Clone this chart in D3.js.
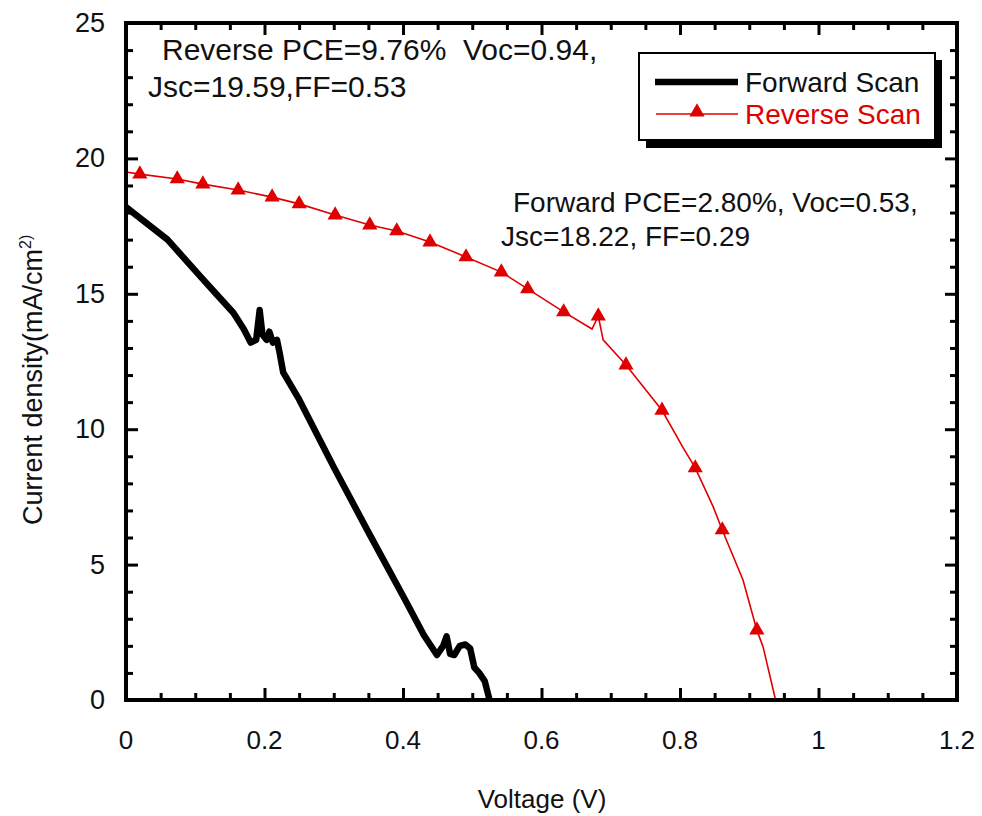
<!DOCTYPE html>
<html>
<head>
<meta charset="utf-8">
<script src="https://cdn.jsdelivr.net/npm/d3@7"></script>
<style>
    body { margin: 0; background: #ffffff; }
    svg { display: block; }
    text { font-family: "Liberation Sans", Arial, sans-serif; }
</style>
</head>
<body>
<script>
// 正扫数据 (V, mA/cm2)
const forwardV = [0, 0.03, 0.06, 0.107, 0.13, 0.155, 0.17, 0.18, 0.188, 0.193, 0.197, 0.203, 0.207, 0.212, 0.218, 0.222, 0.227,
    0.25, 0.3, 0.35, 0.403, 0.43, 0.449, 0.458, 0.463, 0.468, 0.474, 0.482, 0.49, 0.497, 0.503, 0.51, 0.518, 0.525];
const forwardJ = [18.2, 17.6, 17.0, 15.65, 15.0, 14.3, 13.7, 13.2, 13.3, 14.4, 13.5, 13.3, 13.6, 13.2, 13.3, 12.8, 12.1,
    11.1, 8.6, 6.2, 3.7, 2.4, 1.66, 2.0, 2.35, 1.7, 1.66, 2.0, 2.05, 1.9, 1.2, 1.0, 0.7, 0];

// 反扫数据
const reverseV = [0, 0.02, 0.074, 0.111, 0.162, 0.211, 0.25, 0.302, 0.352, 0.391, 0.439, 0.491, 0.542, 0.58, 0.632,
    0.673, 0.682, 0.689, 0.722, 0.774, 0.804, 0.822, 0.848, 0.861, 0.891, 0.911, 0.92, 0.938];
const reverseJ = [19.5, 19.42, 19.24, 19.05, 18.83, 18.57, 18.32, 17.91, 17.54, 17.32, 16.91, 16.36, 15.8, 15.18, 14.33,
    13.7, 14.18, 13.3, 12.37, 10.7, 9.34, 8.57, 7.13, 6.28, 4.43, 2.58, 1.96, 0];
// 带三角标记的点
const reverseMarkerIdx = [1, 2, 3, 4, 5, 6, 7, 8, 9, 10, 11, 12, 13, 14, 16, 18, 19, 21, 23, 25];

// 坐标轴刻度
const xTicks = [0, 0.2, 0.4, 0.6, 0.8, 1, 1.2];
const yTicks = [0, 5, 10, 15, 20, 25];

const legendLabels = ['Forward Scan', 'Reverse Scan'];
const reverseNote = ['Reverse PCE=9.76%\u00a0\u00a0Voc=0.94,', 'Jsc=19.59,FF=0.53'];
const forwardNote = ['Forward PCE=2.80%, Voc=0.53,', 'Jsc=18.22, FF=0.29'];

const red = '#e00000';
const plot = {left: 126, right: 957, top: 23, bottom: 700};

const svg = d3.select('body')
    .append('svg')
    .attr('width', 982)
    .attr('height', 816);

const x = d3.scaleLinear().domain([0, 1.2]).range([plot.left, plot.right]);
const y = d3.scaleLinear().domain([0, 25]).range([plot.bottom, plot.top]);

// 刻度（四边朝内）
const xMinor = d3.range(0, 1.2001, 0.05).filter(v => Math.abs(v / 0.2 - Math.round(v / 0.2)) > 1e-6);
const yMinor = d3.range(0, 25.001, 1).filter(v => v % 5 !== 0);

const drawAxis = (axisFn, scale, values, size, tr) => {
    const g = svg.append('g')
        .attr('transform', tr)
        .call(axisFn(scale).tickValues(values).tickSize(size).tickFormat(''));
    g.select('.domain').remove();
    g.selectAll('.tick line').attr('stroke', '#000').attr('stroke-width', 3);
};
drawAxis(d3.axisTop, x, xTicks, 12, `translate(0,${plot.bottom})`);
drawAxis(d3.axisTop, x, xMinor, 7, `translate(0,${plot.bottom})`);
drawAxis(d3.axisBottom, x, xTicks, 12, `translate(0,${plot.top})`);
drawAxis(d3.axisBottom, x, xMinor, 7, `translate(0,${plot.top})`);
drawAxis(d3.axisRight, y, yTicks, 12, `translate(${plot.left},0)`);
drawAxis(d3.axisRight, y, yMinor, 7, `translate(${plot.left},0)`);
drawAxis(d3.axisLeft, y, yTicks, 12, `translate(${plot.right},0)`);
drawAxis(d3.axisLeft, y, yMinor, 7, `translate(${plot.right},0)`);

// 刻度标签
svg.append('g').selectAll('text')
    .data(xTicks)
    .enter()
    .append('text')
    .attr('x', d => x(d))
    .attr('y', 749)
    .attr('text-anchor', 'middle')
    .attr('font-size', 26)
    .attr('fill', '#111')
    .text(d => d3.format('')(d));
svg.append('g').selectAll('text')
    .data(yTicks)
    .enter()
    .append('text')
    .attr('x', 105)
    .attr('y', d => y(d) + 9)
    .attr('text-anchor', 'end')
    .attr('font-size', 27)
    .attr('fill', '#111')
    .text(d => d);

// 轴标题
svg.append('text')
    .attr('x', 542)
    .attr('y', 808)
    .attr('text-anchor', 'middle')
    .attr('font-size', 26)
    .attr('fill', '#111')
    .text('Voltage (V)');
const yTitle = svg.append('text')
    .attr('transform', 'translate(42,525) rotate(-90)')
    .attr('font-size', 27)
    .attr('fill', '#111');
yTitle.append('tspan').text('Current density(mA/cm');
yTitle.append('tspan').attr('dy', -11).attr('font-size', 16).text('2');
yTitle.append('tspan').attr('font-size', 16).text(')');

// 曲线
const line = d3.line().x(d => x(d[0])).y(d => y(d[1]));
const forwardData = forwardV.map((v, i) => [v, forwardJ[i]]);
const reverseData = reverseV.map((v, i) => [v, reverseJ[i]]);

svg.append('path')
    .datum(reverseData)
    .attr('d', line)
    .attr('fill', 'none')
    .attr('stroke', red)
    .attr('stroke-width', 1.6);
svg.append('g').selectAll('path')
    .data(reverseMarkerIdx.map(i => reverseData[i]))
    .enter()
    .append('path')
    .attr('d', d3.symbol(d3.symbolTriangle, 100))
    .attr('transform', d => `translate(${x(d[0])},${y(d[1])})`)
    .attr('fill', red);

svg.append('path')
    .datum(forwardData)
    .attr('d', line)
    .attr('fill', 'none')
    .attr('stroke', '#000')
    .attr('stroke-width', 6.5)
    .attr('stroke-linejoin', 'round');

// 外框
svg.append('rect')
    .attr('x', plot.left)
    .attr('y', plot.top)
    .attr('width', plot.right - plot.left)
    .attr('height', plot.bottom - plot.top)
    .attr('fill', 'none')
    .attr('stroke', '#000')
    .attr('stroke-width', 4);

// 图例
const legend = svg.append('g');
legend.append('rect')
    .attr('x', 646).attr('y', 60).attr('width', 296).attr('height', 88)
    .attr('fill', '#000');
legend.append('rect')
    .attr('x', 639).attr('y', 53).attr('width', 296).attr('height', 87)
    .attr('fill', '#fff').attr('stroke', '#000').attr('stroke-width', 2);
legend.append('line')
    .attr('x1', 655).attr('x2', 738).attr('y1', 82).attr('y2', 82)
    .attr('stroke', '#000').attr('stroke-width', 6.5);
legend.append('line')
    .attr('x1', 656).attr('x2', 738).attr('y1', 114).attr('y2', 114)
    .attr('stroke', red).attr('stroke-width', 1.6);
legend.append('path')
    .attr('d', d3.symbol(d3.symbolTriangle, 100))
    .attr('transform', 'translate(697,112)')
    .attr('fill', red);
legend.selectAll('text.lab')
    .data(legendLabels)
    .enter()
    .append('text')
    .attr('class', 'lab')
    .attr('x', 745)
    .attr('y', (d, i) => 92 + i * 32)
    .attr('font-size', 28)
    .attr('fill', (d, i) => i === 0 ? '#111' : red)
    .text(d => d);

// 注释
const note = (lines, xs, ys, size) => {
    svg.append('g').selectAll('text')
        .data(lines)
        .enter()
        .append('text')
        .attr('x', (d, i) => xs[i])
        .attr('y', (d, i) => ys[i])
        .attr('font-size', size)
        .attr('fill', '#111')
        .text(d => d);
};
note(reverseNote, [162, 148], [60, 97], 30);
note(forwardNote, [513, 501], [212, 246], 28);
</script>
</body>
</html>
